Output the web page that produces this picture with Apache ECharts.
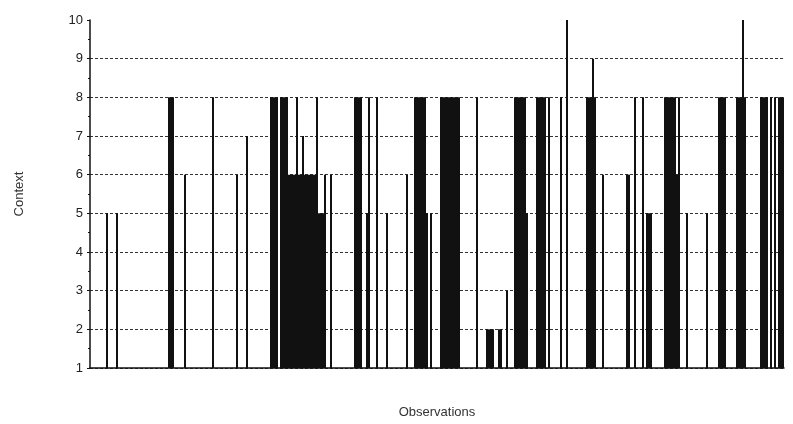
<!DOCTYPE html>
<html>
<head>
<meta charset="utf-8">
<script src="https://cdn.jsdelivr.net/npm/echarts@6/dist/echarts.min.js"></script>
<style>
    html, body { margin: 0; padding: 0; background: #fff; }
    #chart { width: 793px; height: 424px; }
</style>
</head>
<body>
<div id="chart"></div>
<script>
// each run: observations runStart..runEnd share the same context value
const runStart = [9, 14, 40, 48, 62, 74, 79, 91, 96, 100, 104, 105, 107, 108, 114, 115, 118, 121,
    133, 139, 140, 144, 149, 159, 163, 169, 171, 176, 194, 199, 205, 206, 209, 213, 219, 224, 230,
    236, 239, 249, 252, 253, 257, 269, 273, 277, 279, 288, 294, 295, 299, 309, 315, 324, 327, 328,
    336, 341, 343, 345]
const runEnd = [9, 14, 42, 48, 62, 74, 79, 94, 99, 103, 104, 106, 107, 113, 114, 117, 118, 121,
    136, 139, 140, 144, 149, 159, 168, 169, 171, 185, 194, 202, 205, 206, 209, 218, 219, 228, 230,
    236, 239, 251, 252, 253, 257, 270, 273, 277, 281, 293, 294, 295, 299, 309, 318, 326, 327, 328,
    339, 341, 343, 347]
const contextValue = [5, 5, 8, 6, 8, 6, 7, 8, 8, 6, 8, 6, 7, 6, 8, 5, 6, 6,
    8, 5, 8, 8, 5, 6, 8, 5, 5, 8, 8, 2, 2, 2, 3, 8, 5, 8, 8,
    8, 10, 8, 9, 8, 6, 6, 8, 8, 5, 8, 6, 8, 5, 5, 8, 8, 10, 8,
    8, 8, 8, 8]

const totalObservations = 347
const yTicks = [1, 10]

const runs = runStart.map((s, i) => [s, runEnd[i], contextValue[i]])

const chart = echarts.init(document.getElementById('chart'))

chart.setOption({
    animation: false,
    textStyle: { fontFamily: 'Liberation Sans, Arial, sans-serif' },
    grid: {
        left: 90,
        right: 9,
        top: 20,
        bottom: 55
    },
    xAxis: {
        type: 'value',
        min: 0.5,
        max: totalObservations + 0.5,
        name: 'Observations',
        nameLocation: 'middle',
        nameGap: 38,
        nameTextStyle: { fontSize: 13, color: '#333' },
        axisLine: { show: true, lineStyle: { color: '#111', width: 1.5 } },
        axisTick: { show: false },
        axisLabel: { show: false },
        splitLine: { show: false }
    },
    yAxis: {
        type: 'value',
        min: yTicks[0],
        max: yTicks[1],
        interval: 1,
        name: 'Context',
        nameLocation: 'middle',
        nameGap: 64,
        nameTextStyle: { fontSize: 13, color: '#333' },
        axisLine: { show: true, lineStyle: { color: '#111', width: 1.5 } },
        axisTick: { show: true, inside: false, length: 3, lineStyle: { color: '#111' } },
        minorTick: { show: true, splitNumber: 2, length: 2, lineStyle: { color: '#111' } },
        axisLabel: { fontSize: 13, color: '#222', margin: 7 },
        splitLine: {
            show: true,
            showMaxLine: false,
            lineStyle: { color: '#333', type: [3, 2], width: 1 }
        }
    },
    series: [
        {
            type: 'custom',
            data: runs,
            encode: { x: [0, 1], y: 2 },
            renderItem: (params, api) => {
                const p0 = api.coord([api.value(0) - 0.5, yTicks[0]])
                const p1 = api.coord([api.value(1) + 0.5, api.value(2)])
                return {
                    type: 'rect',
                    shape: {
                        x: p0[0],
                        y: p1[1],
                        width: p1[0] - p0[0],
                        height: p0[1] - p1[1]
                    },
                    style: { fill: '#111' }
                }
            }
        }
    ]
})
</script>
</body>
</html>
